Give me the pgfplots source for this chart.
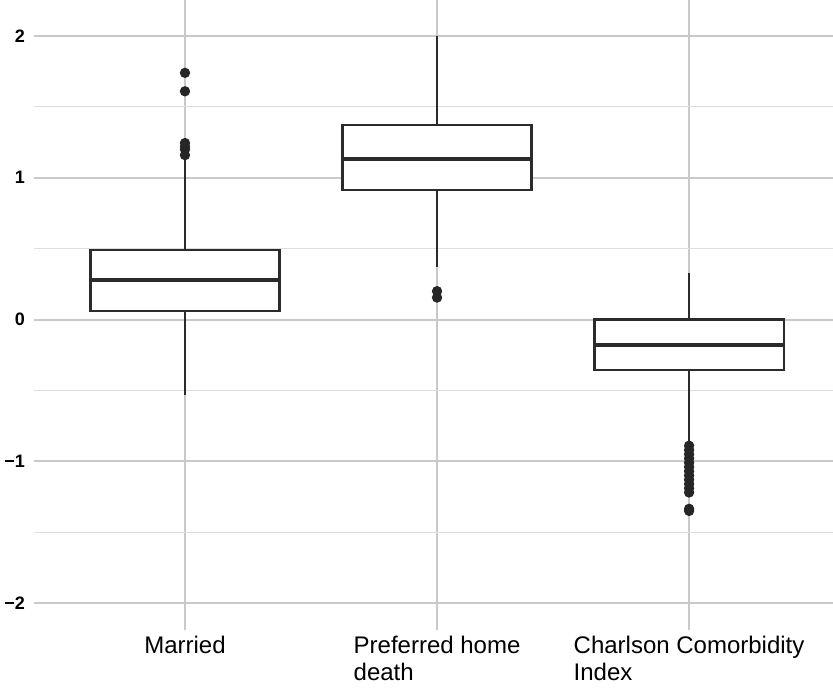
\documentclass[border=0pt]{standalone}
\usepackage{pgfplots}
\pgfplotsset{compat=1.18}
\usepgfplotslibrary{statistics}
\usepackage{fontspec}
\setmainfont{Liberation Sans}
\definecolor{majgrid}{HTML}{C9C9C9}
\definecolor{mingrid}{HTML}{DEDEDE}
\definecolor{boxcol}{HTML}{2B2B2B}
\begin{document}
\begin{tikzpicture}
\path[use as bounding box] (-17pt,-30pt) rectangle (399.5pt,315pt);
\begin{axis}[
  at={(0,0)}, anchor=south west,
  scale only axis, width=399.5pt, height=315pt,
  xmin=0.401, xmax=3.571, ymin=-2.19, ymax=2.254,
  axis line style={draw=none},
  major tick length=0pt, minor tick length=0pt,
  xtick={1,2,3},
  xticklabels={Married, Preferred home\\death, Charlson Comorbidity\\Index},
  xticklabel style={align=left, font=\fontsize{12}{13.5}\selectfont, inner sep=0pt, yshift=-3pt},
  ytick={-2,-1,0,1,2},
  yticklabels={−2,−1,0,1,2},
  yticklabel style={font=\fontsize{9}{10}\selectfont\bfseries, xshift=-1pt},
  minor ytick={-1.5,-0.5,0.5,1.5},
  xmajorgrids, ymajorgrids, yminorgrids,
  major grid style={color=majgrid, line width=1pt},
  minor grid style={color=mingrid, line width=0.6pt},
  clip=false,
  boxplot/draw direction=y,
  boxplot/box extend=0.75,
  boxplot/whisker extend=0,
  boxplot/every median/.style={line width=2pt},
]
\addplot[boxcol, line width=1.1pt, fill=white,
  mark=*, mark size=2pt, mark options={fill=black!85, draw=black!85},
  boxplot prepared={draw position=1, lower whisker=-0.533, lower quartile=0.06,
    median=0.28, upper quartile=0.49, upper whisker=1.13}]
  table[row sep=\\, y index=0] {
  y\\ 1.74\\ 1.61\\ 1.245\\ 1.22\\ 1.20\\ 1.16\\
  };
\addplot[boxcol, line width=1.1pt, fill=white,
  mark=*, mark size=2pt, mark options={fill=black!85, draw=black!85},
  boxplot prepared={draw position=2, lower whisker=0.37, lower quartile=0.913,
    median=1.132, upper quartile=1.372, upper whisker=2.0}]
  table[row sep=\\, y index=0] {
  y\\ 0.20\\ 0.155\\
  };
\addplot[boxcol, line width=1.1pt, fill=white,
  mark=*, mark size=2pt, mark options={fill=black!85, draw=black!85},
  boxplot prepared={draw position=3, lower whisker=-0.86, lower quartile=-0.356,
    median=-0.18, upper quartile=0.0, upper whisker=0.33}]
  table[row sep=\\, y index=0] {
  y\\ -0.89\\ -0.92\\ -0.95\\ -0.98\\ -1.01\\ -1.04\\ -1.07\\ -1.10\\ -1.13\\ -1.16\\ -1.19\\ -1.22\\ -1.335\\ -1.35\\
  };
\end{axis}
\end{tikzpicture}
\end{document}
